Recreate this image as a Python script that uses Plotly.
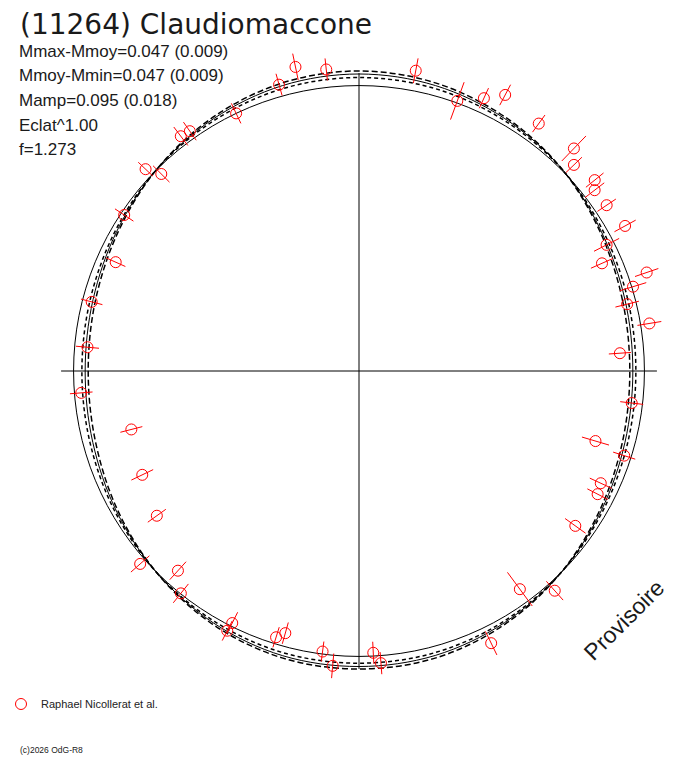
import plotly.graph_objects as go

# rotation phase (deg) and relative brightness (mag, 0 = mean) of each observation
obs_phase = [101.8, 96.2, 105.6, 115.5, 125.2, 127.2, 136.6, 135.1, 146.4, 155.9,
             165.5, 175.0, 184.5, 194.4, 205.6, 215.6, 221.4, 227.8, 231.3, 243.3,
             243.1, 252.7, 254.3, 262.6, 264.9, 272.9, 274.3, 295.9, 306.4, 311.7,
             324.4, 332.7, 335.1, 342.3, 343.5, 353.3, 3.9, 9.3, 14.0, 17.1,
             18.9, 23.9, 27.0, 28.6, 33.8, 37.5, 39.0, 43.8, 46.0, 54.0,
             62.1, 65.4, 70.0, 79.3]
obs_mag = [0.100, 0.071, 0.047, 0.000, 0.032, 0.037, 0.033, -0.025, -0.014, -0.075,
           -0.037, -0.051, -0.027, -0.200, -0.179, -0.146, 0.025, -0.063, -0.002, -0.013,
           0.023, -0.026, -0.052, -0.010, 0.042, -0.013, 0.030, 0.068, -0.057, 0.035,
           -0.077, -0.067, -0.075, -0.028, -0.154, -0.043, -0.095, 0.035, -0.036, 0.005,
           0.074, -0.078, -0.030, 0.070, 0.050, 0.046, 0.071, 0.049, 0.095, 0.081,
           0.107, 0.058, 0.008, 0.080]
obs_err = [0.054, 0.044, 0.045, 0.044, 0.044, 0.046, 0.040, 0.046, 0.044, 0.042,
           0.044, 0.046, 0.045, 0.045, 0.048, 0.044, 0.049, 0.048, 0.048, 0.048,
           0.044, 0.042, 0.044, 0.040, 0.049, 0.044, 0.044, 0.052, 0.083, 0.050,
           0.050, 0.046, 0.048, 0.046, 0.056, 0.046, 0.044, 0.048, 0.048, 0.055,
           0.049, 0.048, 0.056, 0.048, 0.044, 0.048, 0.045, 0.044, 0.069, 0.042,
           0.046, 0.044, 0.079, 0.050]

# fitted curve and its two envelopes, read every 15 deg
curve_phase = [0, 15, 30, 45, 60, 75, 90, 105, 120, 135, 150, 165, 180,
               195, 210, 225, 240, 255, 270, 285, 300, 315, 330, 345, 360]
fit_mag = [-0.046, -0.040, -0.023, 0.004, 0.024, 0.040, 0.046, 0.040, 0.023, 0.001,
           -0.023, -0.040, -0.046, -0.039, -0.021, 0.001, 0.022, 0.037, 0.040, 0.036,
           0.021, 0.000, -0.023, -0.040, -0.046]
fit_hi = [-0.058, -0.050, -0.028, 0.004, 0.030, 0.050, 0.058, 0.050, 0.029, 0.001,
          -0.029, -0.050, -0.058, -0.050, -0.027, 0.001, 0.028, 0.046, 0.050, 0.046,
          0.027, 0.000, -0.029, -0.050, -0.058]
fit_lo = [-0.034, -0.029, -0.016, 0.003, 0.017, 0.028, 0.032, 0.028, 0.016, 0.001,
          -0.017, -0.029, -0.033, -0.028, -0.015, 0.001, 0.015, 0.025, 0.027, 0.025,
          0.015, 0.000, -0.017, -0.029, -0.034]

info_lines = ["Mmax-Mmoy=0.047 (0.009)", "Mmoy-Mmin=0.047 (0.009)",
              "Mamp=0.095 (0.018)", "Eclat^1.00", "f=1.273"]

R_MIN, R_MAX = -1.133, 0.169   # radial range (mag)
CROSS = 0.0496                 # extent of the axis cross

W, H = 688, 768
OFF = 8  # the page body adds 8px on the left and top


def px(x, y):
    """screen pixel -> paper coords"""
    return (x - OFF) / W, 1 - (y - OFF) / H


fig = go.Figure()

# axis cross
fig.add_trace(go.Scatterpolar(r=[CROSS, CROSS], theta=[0, 180], mode="lines",
                              line=dict(color="black", width=1), showlegend=False,
                              hoverinfo="skip"))
fig.add_trace(go.Scatterpolar(r=[CROSS, CROSS], theta=[90, 270], mode="lines",
                              line=dict(color="black", width=1), showlegend=False,
                              hoverinfo="skip"))

# fit + envelopes
fig.add_trace(go.Scatterpolar(r=fit_hi, theta=curve_phase, mode="lines",
                              line=dict(color="black", width=1.5, dash="6px,3px", shape="spline"),
                              showlegend=False))
fig.add_trace(go.Scatterpolar(r=fit_lo, theta=curve_phase, mode="lines",
                              line=dict(color="black", width=1.5, dash="4px,3px", shape="spline"),
                              showlegend=False))
fig.add_trace(go.Scatterpolar(r=fit_mag, theta=curve_phase, mode="lines",
                              line=dict(color="black", width=1, shape="spline"),
                              showlegend=False))

# error bars (radial)
bar_r, bar_t = [], []
for t, m, e in zip(obs_phase, obs_mag, obs_err):
    bar_r += [m - e, m + e, None]
    bar_t += [t, t, None]
fig.add_trace(go.Scatterpolar(r=bar_r, theta=bar_t, mode="lines",
                              line=dict(color="red", width=1), showlegend=False,
                              hoverinfo="skip"))

fig.add_trace(go.Scatterpolar(r=obs_mag, theta=obs_phase, mode="markers",
                              name="Raphael Nicollerat et al.",
                              marker=dict(symbol="circle-open", size=11,
                                          color="red", line=dict(width=1))))

# polar disc: centre (359, 371) on screen, radius 328 px
x0, y1 = px(359 - 328, 371 - 328)
x1, y0 = px(359 + 328, 371 + 328)

fig.update_layout(
    width=W, height=H,
    margin=dict(l=0, r=0, t=0, b=0, autoexpand=False),
    paper_bgcolor="white",
    font=dict(family="Liberation Sans", color="#1a1a1a"),
    polar=dict(
        domain=dict(x=[x0, x1], y=[y0, y1]),
        bgcolor="white",
        radialaxis=dict(range=[R_MIN, R_MAX], tickvals=[0], showticklabels=False,
                        ticks="", showline=False, showgrid=True,
                        gridcolor="black", gridwidth=1),
        angularaxis=dict(showgrid=False, showline=False, showticklabels=False,
                         ticks="", rotation=0, direction="counterclockwise"),
    ),
    showlegend=True,
    legend=dict(x=px(1, 704)[0], y=px(1, 704)[1], xanchor="left", yanchor="middle",
                font=dict(size=11, family="Liberation Sans", color="#222"),
                bgcolor="rgba(0,0,0,0)"),
)

tx, ty = px(18, 24)
fig.add_annotation(text="(11264) Claudiomaccone", xref="paper", yref="paper",
                   x=tx, y=ty, xanchor="left", yanchor="middle", showarrow=False,
                   font=dict(size=28, family="DejaVu Sans", color="#1a1a1a"))

for i, line in enumerate(info_lines):
    lx, ly = px(17, 51.5 + 24.5 * i)
    fig.add_annotation(text=line, xref="paper", yref="paper", x=lx, y=ly,
                       xanchor="left", yanchor="middle", showarrow=False,
                       font=dict(size=17, family="Liberation Sans", color="#1a1a1a"))

vx, vy = px(624, 620)
fig.add_annotation(text="Provisoire", xref="paper", yref="paper", x=vx, y=vy,
                   xanchor="center", yanchor="middle", textangle=-45, showarrow=False,
                   font=dict(size=23, family="Liberation Sans", color="#1a1a1a"))

cx, cy = px(18, 750)
fig.add_annotation(text="(c)2026 OdG-R8", xref="paper", yref="paper", x=cx, y=cy,
                   xanchor="left", yanchor="middle", showarrow=False,
                   font=dict(size=8.5, family="Liberation Sans", color="#1a1a1a"))

fig.write_html("out.html")
